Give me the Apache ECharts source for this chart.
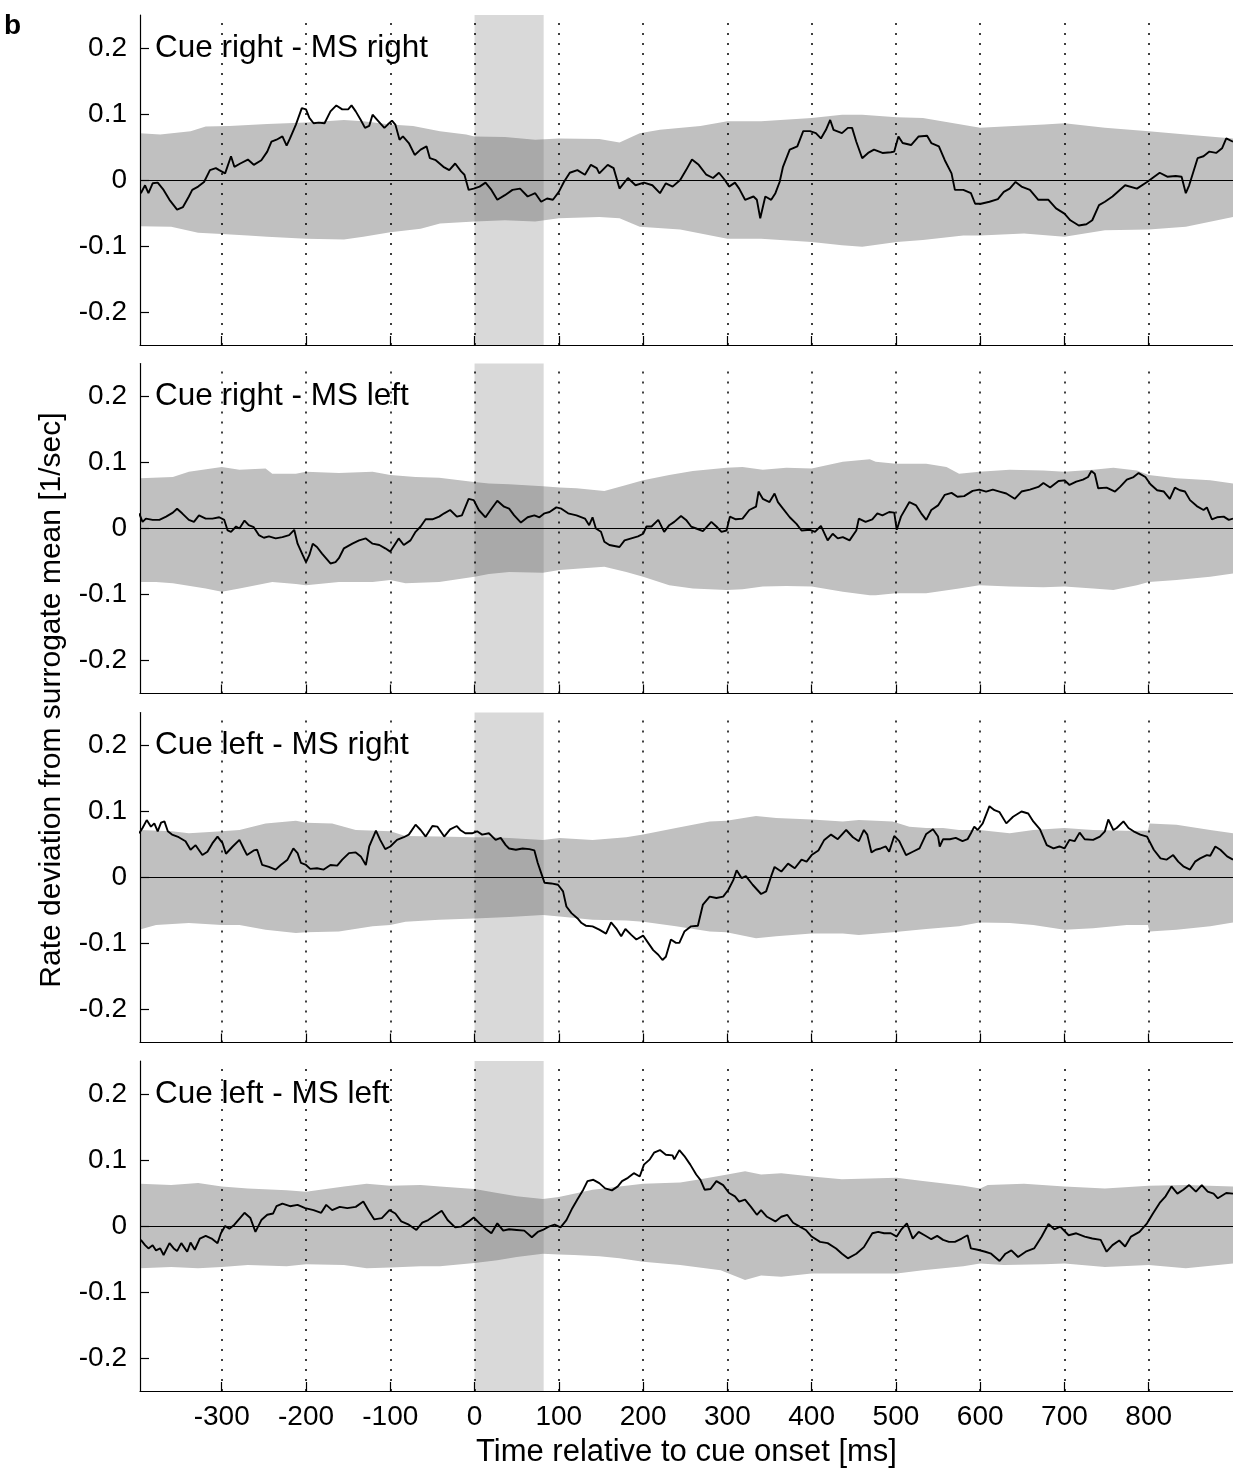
<!DOCTYPE html>
<html><head><meta charset="utf-8">
<script src="https://cdn.jsdelivr.net/npm/echarts@6/dist/echarts.min.js"></script>
<style>html,body{margin:0;padding:0;background:#fff}#chart{width:1233px;height:1478px}</style>
</head><body><div id="chart"></div>
<script>
// ---------- data ----------
const xTicks = [-300,-200,-100,0,100,200,300,400,500,600,700,800];
const yTicks = [-0.2,-0.1,0,0.1,0.2];
const cueWindow = [0, 82];
const panelTitles = ['Cue right - MS right','Cue right - MS left','Cue left - MS right','Cue left - MS left'];
const xTitle = 'Time relative to cue onset [ms]';
const yTitle = 'Rate deviation from surrogate mean [1/sec]';

const trace1 = [[-396,-0.020],[-391,-0.008],[-387,-0.020],[-382,-0.005],[-376,-0.004],[-369,-0.015],[-362,-0.030],[-353,-0.045],[-346,-0.041],[-339,-0.025],[-335,-0.015],[-328,-0.010],[-321,-0.003],[-314,0.015],[-307,0.018],[-303,0.015],[-296,0.010],[-289,0.036],[-285,0.020],[-278,0.025],[-269,0.031],[-262,0.023],[-253,0.030],[-246,0.043],[-241,0.058],[-235,0.061],[-228,0.066],[-223,0.052],[-219,0.063],[-212,0.084],[-205,0.109],[-200,0.107],[-196,0.094],[-191,0.086],[-185,0.087],[-178,0.086],[-171,0.104],[-164,0.113],[-157,0.107],[-150,0.107],[-146,0.113],[-141,0.104],[-135,0.091],[-130,0.079],[-125,0.082],[-121,0.099],[-114,0.089],[-107,0.079],[-103,0.084],[-98,0.090],[-94,0.084],[-89,0.061],[-85,0.066],[-78,0.056],[-71,0.038],[-64,0.046],[-57,0.051],[-53,0.033],[-46,0.030],[-37,0.020],[-30,0.015],[-23,0.025],[-16,0.013],[-12,0.008],[-7,-0.015],[-1,-0.013],[6,-0.010],[13,-0.004],[20,-0.015],[27,-0.030],[36,-0.023],[45,-0.015],[54,-0.013],[63,-0.025],[72,-0.020],[79,-0.033],[86,-0.028],[93,-0.030],[100,-0.018],[106,-0.003],[113,0.011],[122,0.015],[131,0.008],[138,0.023],[145,0.018],[148,0.010],[158,0.023],[165,0.018],[172,-0.013],[182,0.003],[191,-0.008],[201,-0.004],[211,-0.008],[220,-0.020],[227,-0.005],[235,-0.010],[244,0],[251,0.015],[258,0.031],[266,0.023],[275,0.008],[283,0.003],[290,0.011],[297,0],[302,-0.010],[309,-0.004],[314,-0.013],[321,-0.030],[331,-0.025],[335,-0.030],[339,-0.058],[345,-0.025],[352,-0.030],[357,-0.020],[362,-0.003],[366,0.020],[374,0.046],[383,0.051],[390,0.074],[398,0.074],[405,0.071],[411,0.063],[417,0.076],[422,0.091],[426,0.076],[436,0.071],[443,0.079],[448,0.079],[453,0.058],[460,0.033],[467,0.041],[474,0.046],[484,0.041],[494,0.042],[498,0.043],[503,0.066],[508,0.056],[518,0.053],[527,0.066],[537,0.067],[542,0.056],[551,0.051],[558,0.030],[566,0.010],[570,-0.015],[580,-0.015],[589,-0.020],[594,-0.036],[601,-0.036],[611,-0.033],[621,-0.029],[628,-0.018],[635,-0.013],[642,-0.003],[649,-0.010],[659,-0.015],[669,-0.030],[681,-0.030],[690,-0.043],[700,-0.051],[707,-0.061],[717,-0.069],[726,-0.067],[733,-0.061],[741,-0.038],[748,-0.033],[757,-0.025],[772,-0.008],[786,-0.013],[798,-0.003],[813,0.011],[822,0.005],[832,0.006],[839,0.005],[844,-0.020],[848,-0.008],[858,0.033],[865,0.036],[872,0.043],[880,0.041],[887,0.048],[892,0.063],[900,0.058]];
const bandHi1 = [[-397,0.071],[-373,0.069],[-337,0.074],[-319,0.081],[-291,0.082],[-246,0.085],[-200,0.087],[-155,0.091],[-132,0.089],[-100,0.084],[-73,0.082],[-41,0.074],[-10,0.069],[0,0.066],[36,0.065],[72,0.061],[100,0.063],[148,0.062],[172,0.057],[196,0.071],[220,0.076],[268,0.082],[300,0.089],[340,0.089],[400,0.094],[436,0.099],[460,0.099],[501,0.095],[532,0.094],[600,0.079],[628,0.081],[676,0.084],[700,0.086],[748,0.079],[800,0.074],[844,0.069],[900,0.063]];
const bandLo1 = [[-397,-0.070],[-360,-0.071],[-328,-0.080],[-300,-0.082],[-269,-0.084],[-246,-0.086],[-200,-0.089],[-155,-0.090],[-132,-0.086],[-100,-0.079],[-64,-0.074],[-41,-0.066],[0,-0.063],[36,-0.061],[72,-0.063],[100,-0.058],[148,-0.056],[172,-0.058],[196,-0.071],[244,-0.075],[300,-0.089],[340,-0.089],[400,-0.094],[436,-0.099],[460,-0.101],[501,-0.094],[532,-0.091],[580,-0.084],[600,-0.084],[652,-0.081],[700,-0.086],[748,-0.076],[800,-0.075],[844,-0.071],[900,-0.056]];

const trace2 = [[-398,0.023],[-394,0.010],[-390,0.015],[-382,0.013],[-374,0.013],[-366,0.018],[-358,0.024],[-353,0.030],[-347,0.023],[-339,0.013],[-333,0.010],[-327,0.020],[-319,0.015],[-311,0.015],[-303,0.017],[-297,0.013],[-293,-0.003],[-289,-0.005],[-283,0.003],[-279,0],[-273,0.012],[-268,0.005],[-262,0.002],[-256,-0.010],[-250,-0.014],[-244,-0.012],[-236,-0.015],[-228,-0.013],[-220,-0.010],[-214,-0.002],[-210,-0.023],[-204,-0.040],[-200,-0.051],[-196,-0.040],[-192,-0.023],[-187,-0.028],[-181,-0.038],[-171,-0.053],[-165,-0.051],[-161,-0.045],[-155,-0.030],[-145,-0.023],[-137,-0.018],[-129,-0.015],[-121,-0.023],[-113,-0.025],[-106,-0.030],[-100,-0.035],[-94,-0.023],[-90,-0.015],[-84,-0.025],[-76,-0.018],[-70,-0.005],[-64,0.003],[-58,0.014],[-50,0.014],[-42,0.018],[-36,0.023],[-29,0.028],[-21,0.018],[-15,0.020],[-7,0.045],[-1,0.043],[5,0.028],[13,0.017],[19,0.028],[27,0.042],[35,0.033],[41,0.030],[47,0.020],[55,0.009],[63,0.017],[71,0.020],[77,0.017],[83,0.023],[89,0.025],[97,0.032],[103,0.030],[111,0.023],[121,0.020],[131,0.015],[136,0.005],[140,0.017],[144,0],[150,-0.005],[154,-0.020],[160,-0.025],[172,-0.028],[178,-0.018],[186,-0.015],[194,-0.012],[200,-0.008],[204,0.003],[210,0.003],[218,0.013],[225,-0.005],[231,0.005],[237,0.010],[245,0.019],[251,0.013],[257,0.003],[263,0],[271,-0.004],[281,0.010],[287,0.003],[293,-0.005],[299,-0.003],[303,0.018],[310,0.014],[318,0.015],[326,0.028],[334,0.033],[337,0.056],[342,0.045],[350,0.040],[356,0.053],[360,0.040],[366,0.030],[374,0.017],[382,0.007],[388,-0.003],[398,-0.002],[404,-0.005],[411,0.004],[419,-0.018],[425,-0.008],[431,-0.015],[437,-0.013],[445,-0.018],[453,-0.003],[456,0.015],[464,0.010],[472,0.014],[478,0.023],[484,0.020],[492,0.025],[498,0.024],[501,-0.002],[506,0.018],[516,0.040],[524,0.035],[530,0.023],[536,0.013],[542,0.028],[550,0.035],[558,0.051],[566,0.054],[573,0.048],[581,0.049],[591,0.057],[599,0.059],[607,0.056],[615,0.059],[623,0.056],[631,0.053],[641,0.045],[649,0.056],[659,0.059],[669,0.063],[675,0.069],[683,0.062],[693,0.072],[700,0.073],[706,0.066],[714,0.071],[722,0.074],[728,0.078],[732,0.087],[736,0.083],[740,0.061],[750,0.062],[760,0.056],[766,0.063],[774,0.074],[782,0.078],[788,0.084],[796,0.078],[802,0.067],[810,0.058],[818,0.056],[825,0.045],[831,0.062],[837,0.058],[843,0.056],[849,0.043],[857,0.034],[865,0.028],[869,0.032],[875,0.014],[881,0.017],[889,0.018],[895,0.013],[900,0.015]];
const bandHi2 = [[-398,0.076],[-358,0.078],[-339,0.086],[-300,0.093],[-279,0.089],[-248,0.091],[-240,0.083],[-212,0.083],[-200,0.086],[-161,0.084],[-121,0.086],[-100,0.081],[-70,0.078],[-42,0.077],[-3,0.071],[17,0.068],[41,0.067],[81,0.064],[101,0.062],[121,0.061],[154,0.057],[180,0.066],[200,0.073],[231,0.081],[259,0.087],[299,0.092],[318,0.093],[342,0.089],[370,0.092],[400,0.091],[437,0.101],[469,0.105],[476,0.101],[500,0.098],[536,0.098],[560,0.093],[575,0.083],[599,0.086],[635,0.089],[675,0.088],[700,0.086],[734,0.089],[758,0.092],[786,0.088],[800,0.081],[833,0.076],[873,0.073],[900,0.068]];
const bandLo2 = [[-398,-0.081],[-378,-0.081],[-358,-0.083],[-319,-0.091],[-300,-0.096],[-279,-0.091],[-240,-0.081],[-212,-0.084],[-200,-0.086],[-161,-0.081],[-121,-0.081],[-100,-0.078],[-82,-0.083],[-42,-0.081],[0,-0.073],[17,-0.069],[41,-0.066],[81,-0.067],[101,-0.063],[121,-0.061],[154,-0.058],[180,-0.066],[200,-0.073],[231,-0.086],[259,-0.091],[299,-0.093],[318,-0.092],[342,-0.088],[370,-0.087],[400,-0.088],[437,-0.096],[469,-0.101],[476,-0.101],[500,-0.098],[536,-0.098],[575,-0.091],[599,-0.086],[635,-0.088],[675,-0.089],[700,-0.088],[734,-0.091],[758,-0.093],[786,-0.086],[800,-0.081],[833,-0.078],[873,-0.073],[900,-0.068]];

const trace3 = [[-398,0.067],[-394,0.075],[-389,0.087],[-384,0.077],[-380,0.082],[-376,0.070],[-372,0.083],[-368,0.085],[-364,0.070],[-359,0.065],[-351,0.061],[-343,0.055],[-337,0.042],[-331,0.049],[-323,0.034],[-317,0.039],[-311,0.052],[-305,0.062],[-299,0.052],[-295,0.036],[-287,0.047],[-279,0.057],[-274,0.044],[-270,0.034],[-262,0.041],[-258,0.042],[-252,0.019],[-244,0.016],[-236,0.012],[-230,0.019],[-222,0.027],[-215,0.044],[-210,0.037],[-206,0.022],[-200,0.019],[-195,0.013],[-187,0.014],[-179,0.012],[-171,0.019],[-163,0.018],[-157,0.027],[-149,0.037],[-141,0.038],[-135,0.032],[-129,0.019],[-125,0.047],[-117,0.071],[-112,0.057],[-106,0.043],[-100,0.047],[-92,0.057],[-84,0.061],[-78,0.065],[-70,0.080],[-64,0.072],[-58,0.062],[-50,0.078],[-44,0.077],[-36,0.062],[-29,0.073],[-21,0.078],[-17,0.072],[-11,0.067],[-3,0.067],[3,0.070],[9,0.065],[17,0.067],[25,0.057],[31,0.060],[37,0.049],[41,0.044],[49,0.042],[57,0.044],[65,0.043],[71,0.041],[75,0.022],[79,0.007],[83,-0.008],[91,-0.009],[99,-0.011],[105,-0.021],[109,-0.044],[115,-0.054],[123,-0.063],[127,-0.069],[132,-0.073],[140,-0.074],[148,-0.079],[156,-0.085],[162,-0.068],[168,-0.077],[174,-0.089],[179,-0.078],[186,-0.087],[192,-0.094],[200,-0.088],[206,-0.099],[212,-0.110],[218,-0.117],[223,-0.125],[227,-0.120],[233,-0.094],[239,-0.099],[243,-0.099],[249,-0.082],[257,-0.074],[265,-0.073],[271,-0.041],[279,-0.029],[287,-0.031],[295,-0.029],[301,-0.019],[307,-0.004],[311,0.011],[317,-0.001],[322,0.002],[330,-0.011],[340,-0.025],[346,-0.021],[352,0.002],[356,0.016],[364,0.009],[372,0.021],[380,0.014],[388,0.027],[394,0.024],[400,0.034],[408,0.041],[415,0.057],[423,0.065],[431,0.058],[441,0.072],[449,0.061],[456,0.055],[462,0.072],[466,0.065],[471,0.038],[476,0.042],[482,0.044],[488,0.047],[492,0.039],[498,0.063],[504,0.055],[512,0.034],[520,0.039],[528,0.044],[536,0.066],[544,0.073],[550,0.062],[552,0.047],[556,0.058],[564,0.058],[571,0.060],[579,0.055],[585,0.058],[589,0.067],[593,0.077],[597,0.072],[603,0.082],[611,0.108],[617,0.102],[623,0.099],[631,0.082],[639,0.092],[649,0.100],[657,0.097],[663,0.085],[671,0.073],[679,0.049],[687,0.044],[694,0.047],[700,0.044],[706,0.057],[712,0.055],[718,0.068],[724,0.058],[734,0.057],[742,0.062],[748,0.070],[752,0.088],[758,0.072],[762,0.075],[770,0.085],[776,0.075],[782,0.070],[790,0.065],[798,0.062],[806,0.042],[814,0.029],[821,0.027],[829,0.034],[835,0.024],[841,0.017],[849,0.012],[855,0.024],[861,0.029],[869,0.034],[873,0.033],[879,0.047],[885,0.042],[893,0.032],[900,0.027]];
const bandHi3 = [[-398,0.072],[-359,0.070],[-339,0.067],[-300,0.070],[-279,0.072],[-248,0.082],[-212,0.086],[-200,0.083],[-169,0.082],[-141,0.072],[-100,0.070],[-82,0.063],[-42,0.062],[0,0.061],[17,0.061],[41,0.060],[81,0.057],[101,0.060],[140,0.057],[180,0.061],[200,0.065],[239,0.075],[279,0.085],[299,0.086],[334,0.093],[358,0.090],[400,0.088],[437,0.085],[456,0.087],[496,0.085],[516,0.077],[536,0.075],[556,0.075],[575,0.072],[599,0.072],[635,0.067],[663,0.072],[700,0.075],[734,0.072],[774,0.071],[799,0.071],[801,0.082],[833,0.080],[873,0.072],[900,0.067]];
const bandLo3 = [[-398,-0.079],[-378,-0.072],[-339,-0.069],[-300,-0.072],[-279,-0.072],[-248,-0.079],[-212,-0.084],[-200,-0.083],[-161,-0.082],[-121,-0.074],[-100,-0.072],[-82,-0.067],[-42,-0.064],[0,-0.062],[41,-0.060],[81,-0.057],[101,-0.059],[140,-0.064],[180,-0.065],[200,-0.067],[239,-0.074],[279,-0.082],[299,-0.083],[334,-0.092],[358,-0.089],[400,-0.085],[437,-0.085],[456,-0.087],[496,-0.083],[536,-0.078],[575,-0.074],[599,-0.068],[635,-0.069],[663,-0.072],[700,-0.079],[734,-0.077],[774,-0.072],[799,-0.072],[801,-0.082],[833,-0.079],[873,-0.074],[900,-0.068]];

const trace4 = [[-396,-0.021],[-391,-0.029],[-387,-0.034],[-382,-0.029],[-378,-0.037],[-373,-0.034],[-369,-0.044],[-362,-0.026],[-357,-0.034],[-353,-0.038],[-348,-0.026],[-341,-0.039],[-337,-0.025],[-332,-0.036],[-326,-0.019],[-319,-0.015],[-312,-0.019],[-305,-0.026],[-301,-0.011],[-296,0],[-291,-0.004],[-285,0.002],[-273,0.020],[-266,0.012],[-260,-0.009],[-253,0.009],[-246,0.017],[-239,0.019],[-235,0.030],[-228,0.034],[-219,0.030],[-210,0.032],[-201,0.027],[-191,0.024],[-182,0.020],[-176,0.032],[-169,0.024],[-160,0.029],[-151,0.027],[-141,0.029],[-132,0.037],[-126,0.024],[-119,0.010],[-110,0.012],[-101,0.024],[-94,0.019],[-87,0.007],[-78,0.002],[-69,-0.006],[-62,0.005],[-55,0.009],[-46,0.017],[-39,0.023],[-32,0.009],[-23,-0.002],[-16,-0.001],[-7,0.007],[-1,0.013],[6,0.004],[13,-0.004],[20,-0.011],[27,0.004],[34,-0.007],[41,-0.005],[50,-0.006],[59,-0.007],[68,-0.017],[75,-0.009],[81,-0.006],[88,-0.001],[95,0.002],[102,-0.002],[109,0.009],[116,0.027],[122,0.040],[129,0.055],[134,0.068],[141,0.070],[148,0.065],[155,0.057],[163,0.054],[170,0.060],[175,0.068],[182,0.073],[189,0.080],[196,0.075],[201,0.093],[208,0.101],[213,0.111],[220,0.115],[227,0.108],[235,0.107],[237,0.101],[243,0.115],[249,0.106],[256,0.093],[263,0.078],[268,0.070],[273,0.055],[280,0.056],[287,0.068],[295,0.062],[302,0.050],[309,0.045],[314,0.037],[321,0.040],[328,0.029],[335,0.017],[340,0.024],[347,0.014],[357,0.007],[364,0.014],[371,0.017],[378,0.005],[386,-0.001],[393,-0.006],[400,-0.016],[410,-0.024],[419,-0.026],[429,-0.034],[436,-0.042],[443,-0.049],[453,-0.042],[462,-0.032],[472,-0.011],[479,-0.009],[486,-0.011],[494,-0.011],[501,-0.016],[506,-0.006],[513,0.004],[520,-0.019],[527,-0.009],[534,-0.014],[542,-0.020],[549,-0.015],[556,-0.021],[563,-0.024],[570,-0.024],[578,-0.019],[585,-0.014],[589,-0.034],[597,-0.036],[606,-0.039],[613,-0.042],[623,-0.053],[630,-0.042],[637,-0.037],[645,-0.047],[654,-0.039],[664,-0.034],[673,-0.016],[681,0.003],[688,-0.005],[695,-0.001],[705,-0.014],[714,-0.011],[724,-0.016],[733,-0.019],[743,-0.021],[750,-0.039],[757,-0.029],[765,-0.022],[772,-0.031],[779,-0.016],[789,-0.009],[798,0.004],[805,0.019],[813,0.035],[820,0.045],[827,0.060],[834,0.049],[841,0.055],[848,0.062],[856,0.052],[863,0.062],[870,0.052],[877,0.049],[882,0.042],[892,0.050],[900,0.049]];
const bandHi4 = [[-397,0.064],[-360,0.062],[-328,0.065],[-300,0.060],[-269,0.057],[-223,0.054],[-200,0.052],[-155,0.060],[-128,0.064],[-100,0.061],[-64,0.062],[-41,0.060],[0,0.056],[27,0.050],[50,0.045],[81,0.041],[100,0.044],[118,0.049],[140,0.055],[148,0.056],[172,0.060],[200,0.064],[244,0.066],[268,0.071],[300,0.078],[321,0.083],[340,0.078],[364,0.080],[400,0.075],[436,0.071],[501,0.073],[532,0.068],[580,0.061],[600,0.057],[609,0.062],[652,0.064],[700,0.060],[748,0.057],[800,0.061],[844,0.062],[900,0.060]];
const bandLo4 = [[-397,-0.064],[-360,-0.062],[-328,-0.064],[-300,-0.062],[-269,-0.059],[-223,-0.061],[-200,-0.058],[-155,-0.059],[-128,-0.064],[-100,-0.063],[-64,-0.061],[-41,-0.061],[0,-0.056],[27,-0.052],[50,-0.047],[81,-0.042],[100,-0.043],[118,-0.044],[148,-0.046],[172,-0.049],[200,-0.054],[244,-0.059],[292,-0.067],[321,-0.082],[340,-0.075],[364,-0.077],[400,-0.072],[436,-0.072],[501,-0.072],[532,-0.067],[580,-0.061],[600,-0.057],[628,-0.059],[676,-0.058],[700,-0.057],[748,-0.062],[800,-0.059],[844,-0.064],[900,-0.057]];

// ---------- chart ----------
const traces = [trace1, trace2, trace3, trace4];
const bandsHi = [bandHi1, bandHi2, bandHi3, bandHi4];
const bandsLo = [bandLo1, bandLo2, bandLo3, bandLo4];

const FONT = '"Liberation Sans", Arial, Helvetica, sans-serif';
const LEFT = 140, WIDTH = 1093, H = 330;
const tops = [15, 363.5, 712.5, 1061];

const grids = [], xAxes = [], yAxes = [], series = [], graphics = [];
for (let i = 0; i < 4; i++) {
  grids.push({left: LEFT, top: tops[i], width: WIDTH, height: H, containLabel: false, outerBoundsMode: 'none'});
  xAxes.push({
    type: 'value', gridIndex: i, min: -397, max: 900, z: 5,
    axisLine: {show: true, onZero: false, lineStyle: {color: '#000', width: 1.2}},
    axisTick: {show: true, inside: true, length: 9, customValues: xTicks, lineStyle: {color: '#000', width: 1.2}},
    axisLabel: {show: i === 3, customValues: xTicks, margin: 12, fontSize: 28, fontFamily: FONT, color: '#000'},
    splitLine: {show: false}
  });
  yAxes.push({
    type: 'value', gridIndex: i, min: -0.25, max: 0.25, z: 5,
    axisLine: {show: true, onZero: false, lineStyle: {color: '#000', width: 1.2}},
    axisTick: {show: true, inside: true, length: 9, customValues: yTicks, lineStyle: {color: '#000', width: 1.2}},
    axisLabel: {show: true, customValues: yTicks, margin: 13, fontSize: 28, fontFamily: FONT, color: '#000',
      formatter: v => (Math.abs(v) < 1e-9 ? '0' : Number(v).toFixed(1))},
    splitLine: {show: false}
  });
  const bandCommon = {type: 'line', xAxisIndex: i, yAxisIndex: i, symbol: 'none', silent: true, animation: false,
    lineStyle: {width: 0, opacity: 0}, z: 1};
  series.push(Object.assign({}, bandCommon, {data: bandsHi[i], areaStyle: {color: '#c0c0c0', opacity: 1, origin: 'auto'}}));
  series.push(Object.assign({}, bandCommon, {data: bandsLo[i], areaStyle: {color: '#c0c0c0', opacity: 1, origin: 'auto'}}));
  series.push({
    type: 'line', xAxisIndex: i, yAxisIndex: i, data: traces[i], symbol: 'none', animation: false, z: 4,
    lineStyle: {color: '#000', width: 1.9},
    markArea: {silent: true, z: 2, animation: false, itemStyle: {color: 'rgba(95,95,95,0.24)'},
      data: [[{xAxis: cueWindow[0]}, {xAxis: cueWindow[1]}]]},
    markLine: {silent: true, z: 3, animation: false, symbol: ['none', 'none'], label: {show: false},
      data: xTicks.map(v => ({xAxis: v, lineStyle: {type: [2, 8], width: 1.5, color: '#000'}}))
        .concat([{yAxis: 0, lineStyle: {type: 'solid', width: 1.2, color: '#000'}}])}
  });
  graphics.push({type: 'text', x: 155, y: tops[i] + H * 0.1, z: 10,
    style: {text: panelTitles[i], font: '31.5px ' + FONT, fill: '#000', verticalAlign: 'middle', textVerticalAlign: 'middle', align: 'left', textAlign: 'left'}});
}
graphics.push({type: 'text', x: 4, y: 26, z: 10,
  style: {text: 'b', font: 'bold 28px ' + FONT, fill: '#000', verticalAlign: 'middle', textVerticalAlign: 'middle'}});
graphics.push({type: 'text', x: LEFT + WIDTH / 2, y: 1452, z: 10,
  style: {text: xTitle, font: '31px ' + FONT, fill: '#000', align: 'center', textAlign: 'center', verticalAlign: 'middle', textVerticalAlign: 'middle'}});
graphics.push({type: 'text', x: 52, y: 700, rotation: Math.PI / 2, z: 10,
  style: {text: yTitle, font: '30px ' + FONT, fill: '#000', align: 'center', textAlign: 'center', verticalAlign: 'middle', textVerticalAlign: 'middle'}});

const chart = echarts.init(document.getElementById('chart'));
chart.setOption({
  animation: false,
  backgroundColor: '#fff',
  grid: grids, xAxis: xAxes, yAxis: yAxes, series: series,
  graphic: {elements: graphics}
});
</script>
</body></html>
